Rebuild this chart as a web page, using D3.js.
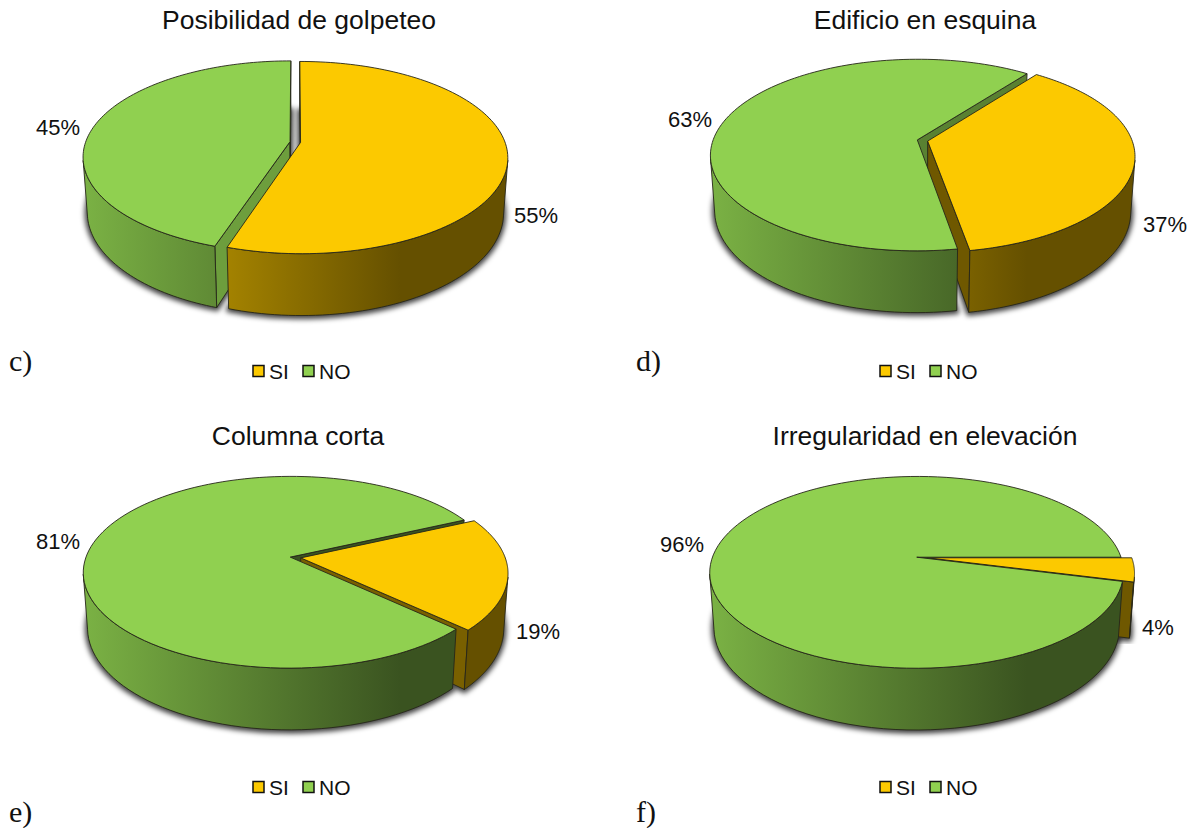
<!DOCTYPE html>
<html>
<head>
<meta charset="utf-8">
<script src="https://cdnjs.cloudflare.com/ajax/libs/d3/7.8.5/d3.min.js"></script>
<style>
html,body{margin:0;padding:0;background:#fff;}
svg{display:block;}
</style>
</head>
<body>
<svg id="chart" width="1193" height="828"></svg>
<script>
// Survey categories and shares for the four structural irregularity pies
const categories = ["SI", "NO"];
const titles = ["Posibilidad de golpeteo", "Edificio en esquina", "Columna corta", "Irregularidad en elevación"];
const panelTags = ["c)", "d)", "e)", "f)"];
const siValues = [55, 37, 19, 4];
const noValues = [45, 63, 81, 96];

// Where each pie sits on the page and how its first slice is rotated
const layout = [
  {cx: 295.3, cy: 142,   start: 0,  titleX: 299, titleY: 29,  legX: 253, legY: 371, tagX: 9,   tagY: 371,
   labels: [[536, 215], [58, 127]],  inner: {SI: [0.45, 0.45], NO: [0.76, 0.76]}},
  {cx: 922.5, cy: 140.5, start: 37, titleX: 925, titleY: 29,  legX: 880, legY: 371, tagX: 636, tagY: 371,
   labels: [[1165, 224], [690, 119]], inner: {SI: [0.44, 0.44], NO: [0.62, 0.62]}},
  {cx: 295.5, cy: 557.5, start: 65, titleX: 298, titleY: 445, legX: 253, legY: 787, tagX: 9,   tagY: 822,
   labels: [[538, 631], [58, 541]],  inner: {SI: [0.48, 0.48], NO: [0.4, 0.4]}},
  {cx: 922,   cy: 557.5, start: 90, titleX: 925, titleY: 445, legX: 880, legY: 787, tagX: 636, tagY: 822,
   labels: [[1158, 627], [682, 544]], inner: {SI: [0.44, 0.44], NO: [0.4, 0.4]}}
];

const sans = '"Liberation Sans", Arial, sans-serif';
const serif = '"Liberation Serif", "Times New Roman", serif';
const baseColors = {SI: "#fcc900", NO: "#90d050"};
const edgeColor = "#26261a";

// Perspective camera for the tilted disc
const radiusX = 204.4, radiusY = 93.6, tiltK = 0.158, drop = 55.5, dropK = 0.02, explode = 0.026;
const sideShade = d3.scaleLinear().domain([0, 0.75, 1]).range([0.85, 0.4, 0.4]);

const svg = d3.select("#chart");
const defs = svg.append("defs");
defs.append("filter").attr("id", "softShadow")
  .attr("x", "-10%").attr("y", "-10%").attr("width", "120%").attr("height", "125%")
  .append("feGaussianBlur").attr("stdDeviation", 2.4);

const line = d3.line().x(d => d[0]).y(d => d[1]);
const pieLayout = d3.pie().sort(null).value(d => d.value);
const shadeColor = (hex, f) => {
  const c = d3.rgb(hex);
  return d3.rgb(c.r * f, c.g * f, c.b * f).formatHex();
};
const toRad = d3.scaleLinear().domain([0, 360]).range([0, 2 * Math.PI]);

function drawPie(i) {
  const place = layout[i];
  const g = svg.append("g");
  const rows = categories.map((name, k) => ({name, value: k === 0 ? siValues[i] : noValues[i]}));
  const arcs = pieLayout.startAngle(toRad(place.start)).endAngle(toRad(place.start) + 2 * Math.PI)(rows);

  // angle t is measured clockwise from the back of the disc; z=0 top face, z=1 floor
  const project = (arc, r, t, z) => {
    const mid = (arc.startAngle + arc.endAngle) / 2;
    const u = explode * Math.sin(mid) + r * Math.sin(t);
    const v = -explode * Math.cos(mid) - r * Math.cos(t);
    const w = 1 - tiltK * v + dropK * z;
    return [place.cx + radiusX * u / w, place.cy + (radiusY * v + drop * z) / w];
  };
  const rimAngles = arc => d3.range(0, 121).map(n => arc.startAngle + (arc.endAngle - arc.startAngle) * n / 120);

  // Horizontal darkening of the outer wall, running across the whole disc
  const x0 = place.cx - radiusX - 5, x1 = place.cx + radiusX + 5;
  categories.forEach(name => {
    const grad = defs.append("linearGradient").attr("id", `wall-${i}-${name}`)
      .attr("gradientUnits", "userSpaceOnUse").attr("x1", x0).attr("x2", x1).attr("y1", 0).attr("y2", 0);
    [0, 0.75, 1].forEach(s => grad.append("stop").attr("offset", s)
      .attr("stop-color", shadeColor(baseColors[name], sideShade(s))));
  });

  // Soft ground shadow below the floor of every slice
  arcs.forEach(arc => {
    const pts = [project(arc, 0, 0, 1), ...rimAngles(arc).map(t => project(arc, 1, t, 1))];
    g.append("path").attr("d", line(pts) + "Z").attr("transform", "translate(0,1)")
      .attr("fill", "#000").attr("fill-opacity", 0.6)
      .attr("stroke", "#000").attr("stroke-width", 6).attr("stroke-opacity", 0.6)
      .attr("stroke-linejoin", "round").attr("filter", "url(#softShadow)");
  });

  const area2 = p => d3.polygonArea(p);

  // Cut faces turned toward the viewer go first, so the neighbouring slice can cover them
  [arcs[1], arcs[0]].forEach(arc => {
    const name = arc.data.name;
    [arc.startAngle, arc.endAngle].forEach((t, k) => {
      const a = project(arc, 0, 0, 0), b = project(arc, 1, t, 0);
      const c = project(arc, 1, t, 1), d = project(arc, 0, 0, 1);
      const visible = k === 0 ? area2([a, b, c, d]) > 0 : area2([a, b, c, d]) < 0;
      if (!visible) return;
      g.append("path").attr("d", line([a, b, c, d]) + "Z")
        .attr("fill", shadeColor(baseColors[name], place.inner[name][k]))
        .attr("stroke", edgeColor).attr("stroke-width", 0.9).attr("stroke-linejoin", "round");
    });
  });

  arcs.forEach(arc => {
    const name = arc.data.name;
    // Outer wall, only the stretches of the rim that face the viewer
    const ts = rimAngles(arc);
    let run = [];
    const flush = () => {
      if (run.length > 1) {
        const top = run.map(t => project(arc, 1, t, 0));
        const bottom = run.map(t => project(arc, 1, t, 1)).reverse();
        g.append("path").attr("d", line([...top, ...bottom]) + "Z")
          .attr("fill", `url(#wall-${i}-${name})`)
          .attr("stroke", edgeColor).attr("stroke-width", 0.9).attr("stroke-linejoin", "round");
      }
      run = [];
    };
    ts.forEach((t, n) => {
      if (n === ts.length - 1) { run.push(t); flush(); return; }
      const q = [project(arc, 1, t, 0), project(arc, 1, ts[n + 1], 0), project(arc, 1, ts[n + 1], 1), project(arc, 1, t, 1)];
      if (area2(q) > 0) run.push(t);
      else { if (run.length) run.push(t); flush(); }
    });
    // Top face
    const topPts = [project(arc, 0, 0, 0), ...ts.map(t => project(arc, 1, t, 0))];
    g.append("path").attr("d", line(topPts) + "Z")
      .attr("fill", baseColors[name]).attr("stroke", edgeColor)
      .attr("stroke-width", 0.9).attr("stroke-linejoin", "round");
  });

  // Percentage labels
  arcs.forEach((arc, k) => {
    g.append("text").attr("x", place.labels[k][0]).attr("y", place.labels[k][1] + 7.5)
      .attr("text-anchor", "middle").attr("font-family", sans).attr("font-size", 22)
      .attr("fill", "#111").text(`${arc.data.value}%`);
  });

  // Title
  g.append("text").attr("x", place.titleX).attr("y", place.titleY).attr("text-anchor", "middle")
    .attr("font-family", sans).attr("font-size", 26.5).attr("fill", "#111").text(titles[i]);

  // Legend
  const legend = g.append("g").attr("transform", `translate(${place.legX},${place.legY})`);
  const legendStep = d3.scalePoint().domain(categories).range([0, 50]);
  categories.forEach(name => {
    const item = legend.append("g").attr("transform", `translate(${legendStep(name)},0)`);
    item.append("rect").attr("x", 0).attr("y", -5.5).attr("width", 11).attr("height", 11)
      .attr("fill", baseColors[name]).attr("stroke", "#111").attr("stroke-width", 1.5);
    item.append("text").attr("x", 16).attr("y", 7.5).attr("font-family", sans)
      .attr("font-size", 21).attr("fill", "#111").text(name);
  });

  // Panel letter
  g.append("text").attr("x", place.tagX).attr("y", place.tagY).attr("font-family", serif)
    .attr("font-size", 30).attr("fill", "#111").text(panelTags[i]);
}

titles.forEach((_, i) => drawPie(i));
</script>
</body>
</html>
